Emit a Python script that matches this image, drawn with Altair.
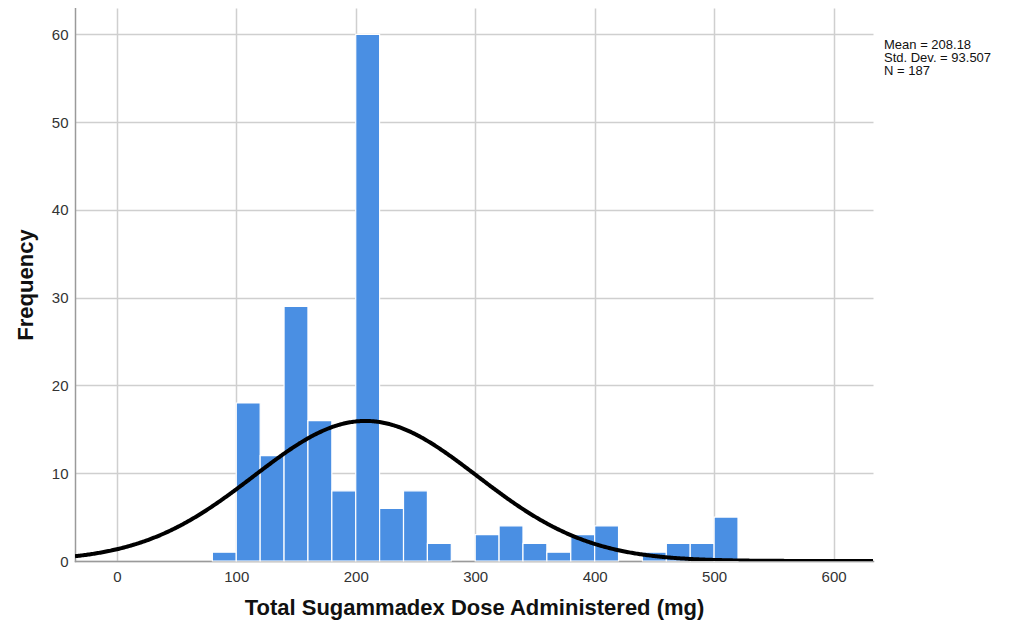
import altair as alt
import pandas as pd

# Histogram bins (mg) and frequencies
bin_start = [80, 100, 120, 140, 160, 180, 200, 220, 240, 260, 280, 300, 320, 340,
             360, 380, 400, 420, 440, 460, 480, 500]
counts = [1, 18, 12, 29, 16, 8, 60, 6, 8, 2, 0, 3, 4, 2, 1, 3, 4, 0, 1, 2, 2, 5]
bin_width = 20

MEAN = 208.18
SD = 93.507
N = 187
stats_lines = ["Mean = 208.18", "Std. Dev. = 93.507", "N = 187"]

X_MIN, X_MAX = -35, 633
Y_MAX = 63

df = pd.DataFrame({"start": bin_start, "count": counts})
df["end"] = df["start"] + bin_width
df = df[df["count"] > 0]

xscale = alt.Scale(domain=[X_MIN, X_MAX], nice=False, zero=False)
yscale = alt.Scale(domain=[0, Y_MAX], nice=False)

font = "Liberation Sans"

bars = alt.Chart(df).mark_bar(
    color="#4a8fe3", stroke="white", strokeWidth=1.2, opacity=1
).encode(
    x=alt.X("start:Q", scale=xscale,
            axis=alt.Axis(values=[0, 100, 200, 300, 400, 500, 600], grid=True,
                          gridColor="#cfcfcf", gridWidth=1.5, ticks=False,
                          domainColor="#9a9a9a", domainWidth=1.5,
                          labelFont=font, labelFontSize=15, labelColor="#333333",
                          labelPadding=8,
                          title="Total Sugammadex Dose Administered (mg)",
                          titleFont=font, titleFontSize=22, titleFontWeight="bold",
                          titleColor="#111111", titlePadding=13)),
    x2="end:Q",
    y=alt.Y("count:Q", scale=yscale,
            axis=alt.Axis(values=[0, 10, 20, 30, 40, 50, 60], grid=True,
                          gridColor="#cfcfcf", gridWidth=1.5, ticks=False,
                          domainColor="#9a9a9a", domainWidth=1.5,
                          labelFont=font, labelFontSize=15, labelColor="#333333",
                          labelPadding=7,
                          title="Frequency", titleFont=font, titleFontSize=22,
                          titleFontWeight="bold", titleColor="#111111",
                          titlePadding=14)),
    y2=alt.datum(0),
)

curve = alt.Chart(alt.sequence(X_MIN, X_MAX + 1, 1, as_="x")).transform_calculate(
    y=f"{N}*{bin_width}*exp(-0.5*pow((datum.x-{MEAN})/{SD},2))/({SD}*sqrt(2*PI))"
).mark_line(color="black", strokeWidth=4, clip=True).encode(
    x=alt.X("x:Q", scale=xscale),
    y=alt.Y("y:Q", scale=yscale),
)

stats = alt.Chart(pd.DataFrame({"t": [stats_lines]})).mark_text(
    align="left", baseline="top", font=font, fontSize=13, color="#111111",
    lineHeight=13
).encode(
    x=alt.value(809), y=alt.value(31), text="t:N"
)

chart = alt.layer(bars, curve, stats).properties(
    width=798, height=553,
    autosize=alt.AutoSizeParams(type="none"),
    padding={"left": 67, "top": 0, "right": 129, "bottom": 61},
).configure_view(stroke=None).configure_axis(domainCap="square")

chart.save("out.html", embed_options={"renderer": "svg", "actions": False})
